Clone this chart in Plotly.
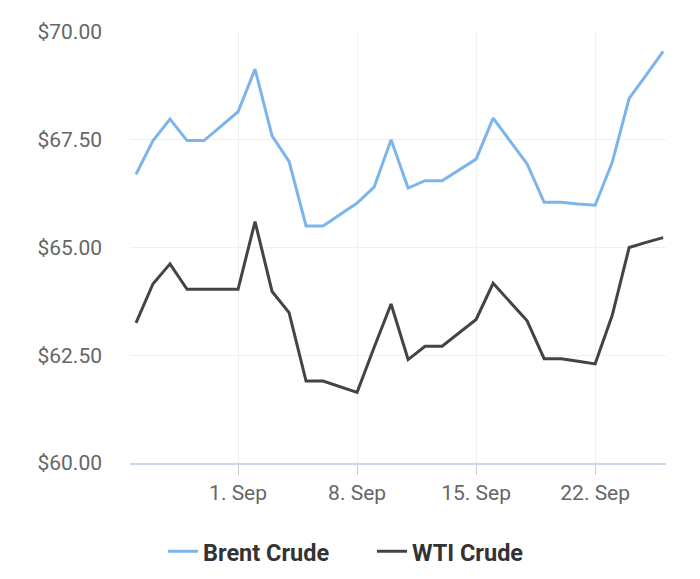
import plotly.graph_objects as go

dates = ["2025-08-26", "2025-08-27", "2025-08-28", "2025-08-29", "2025-08-30",
         "2025-08-31", "2025-09-01", "2025-09-02", "2025-09-03", "2025-09-04",
         "2025-09-05", "2025-09-06", "2025-09-07", "2025-09-08", "2025-09-09",
         "2025-09-10", "2025-09-11", "2025-09-12", "2025-09-13", "2025-09-14",
         "2025-09-15", "2025-09-16", "2025-09-17", "2025-09-18", "2025-09-19",
         "2025-09-20", "2025-09-21", "2025-09-22", "2025-09-23", "2025-09-24",
         "2025-09-25", "2025-09-26"]

brent = [66.70, 67.48, 67.98, 67.48, 67.48, 67.82, 68.15, 69.14, 67.59, 67.00,
         65.50, 65.50, 65.77, 66.03, 66.40, 67.50, 66.38, 66.55, 66.55, 66.80,
         67.05, 68.00, 67.47, 66.94, 66.05, 66.05, 66.01, 65.98, 66.97, 68.46,
         69.00, 69.55]

wti = [63.25, 64.16, 64.62, 64.03, 64.03, 64.03, 64.03, 65.60, 63.98, 63.49,
       61.90, 61.90, 61.77, 61.64, 62.68, 63.69, 62.40, 62.71, 62.71, 63.02,
       63.33, 64.17, 63.74, 63.30, 62.42, 62.42, 62.36, 62.30, 63.42, 65.00,
       65.12, 65.23]

fig = go.Figure()
fig.add_trace(go.Scatter(x=dates, y=brent, mode="lines", name="Brent Crude",
                         line=dict(color="#7cb5ec", width=3)))
fig.add_trace(go.Scatter(x=dates, y=wti, mode="lines", name="WTI Crude",
                         line=dict(color="#434348", width=3)))

# page body has an 8px margin, so the figure is drawn 8px smaller
fig.update_layout(
    width=692, height=571,
    margin=dict(l=122, r=34, t=22, b=116),
    paper_bgcolor="white", plot_bgcolor="white",
    font=dict(family="Roboto", color="#666666", size=21),
    showlegend=True,
    legend=dict(orientation="h", xref="container", yref="container",
                x=0.526, xanchor="center", y=0.048, yanchor="middle",
                font=dict(size=23.5, color="#333333", family="Roboto", weight=700),
                itemwidth=30, entrywidth=164),
    xaxis=dict(
        type="date",
        range=["2025-08-25 15:30", "2025-09-26 04:00"],
        tickvals=["2025-09-01", "2025-09-08", "2025-09-15", "2025-09-22"],
        ticktext=["1. Sep", "8. Sep", "15. Sep", "22. Sep"],
        showgrid=True, gridcolor="#f0f0f0", gridwidth=1,
        showline=True, linecolor="#ccd6eb", linewidth=2,
        ticks="outside", ticklen=10, tickcolor="#cccccc",
        zeroline=False,
    ),
    yaxis=dict(
        range=[60, 70],
        tickvals=[60, 62.5, 65, 67.5, 70],
        tickformat="$.2f",
        showgrid=True, gridcolor="#f0f0f0", gridwidth=1,
        zeroline=False,
        ticklabelstandoff=27,
    ),
)

fig.write_html("out.html")
